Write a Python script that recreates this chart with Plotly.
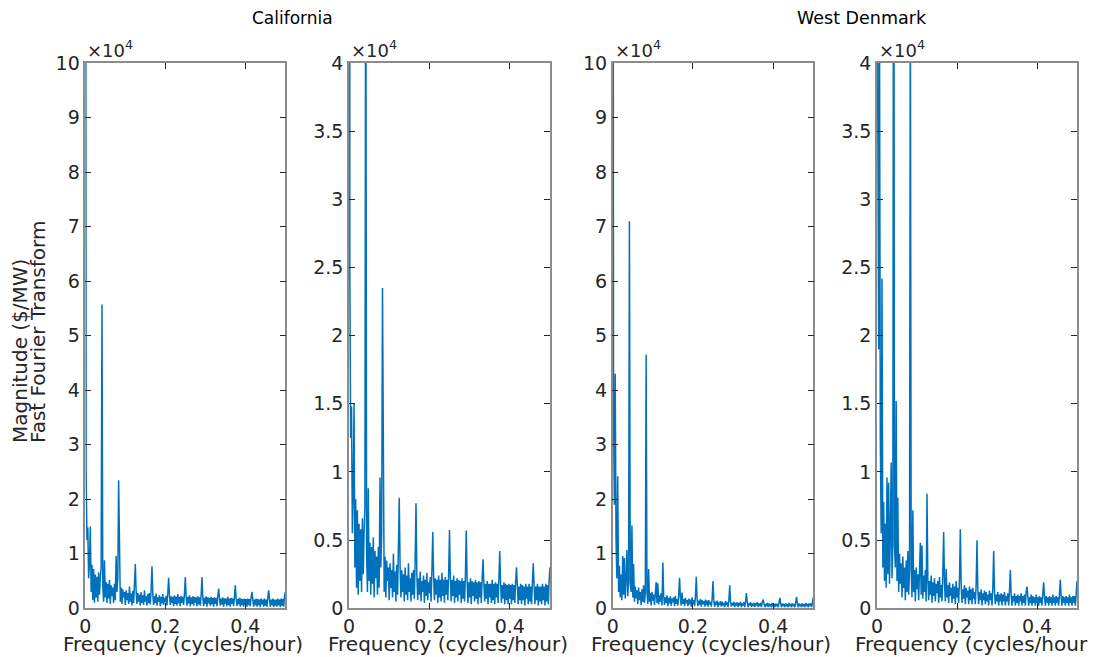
import numpy as np
import plotly.graph_objects as go

# ---------------- data (magnitudes in units of 10^4 $/MW) ----------------
# FFT frequency bins: k / 480 cycles/hour, k = 0..240
bins_per_cycle = 480

california_mag = [
    25.0, 2.45, 1.25, 1.48, 0.55, 0.85, 1.50, 0.30, 0.80, 0.15,
    0.72, 0.10, 0.62, 0.20, 0.58, 0.12, 0.66, 0.25, 0.55, 0.75,
    5.57, 0.40, 0.12, 0.88, 0.20, 0.48, 0.10, 0.45, 0.18, 0.52,
    0.08, 0.42, 0.22, 0.38, 0.10, 0.45, 0.15, 0.96, 0.30, 0.55,
    2.35, 0.45, 0.12, 0.38, 0.08, 0.35, 0.20, 0.30, 0.06, 0.33,
    0.15, 0.28, 0.08, 0.40, 0.12, 0.27, 0.05, 0.32, 0.10, 0.45,
    0.81, 0.30, 0.08, 0.28, 0.12, 0.25, 0.05, 0.30, 0.10, 0.24,
    0.06, 0.33, 0.12, 0.22, 0.05, 0.26, 0.10, 0.28, 0.07, 0.35,
    0.77, 0.25, 0.06, 0.22, 0.10, 0.27, 0.05, 0.20, 0.12, 0.24,
    0.04, 0.21, 0.09, 0.26, 0.06, 0.19, 0.11, 0.23, 0.05, 0.28,
    0.56, 0.24, 0.06, 0.22, 0.10, 0.21, 0.04, 0.24, 0.08, 0.21,
    0.05, 0.26, 0.09, 0.21, 0.04, 0.23, 0.10, 0.21, 0.06, 0.26,
    0.575, 0.22, 0.05, 0.21, 0.09, 0.24, 0.04, 0.20, 0.08, 0.22,
    0.05, 0.21, 0.10, 0.20, 0.04, 0.22, 0.07, 0.20, 0.05, 0.24,
    0.57, 0.21, 0.04, 0.19, 0.08, 0.22, 0.03, 0.20, 0.09, 0.19,
    0.05, 0.21, 0.07, 0.19, 0.03, 0.20, 0.08, 0.19, 0.04, 0.22,
    0.36, 0.19, 0.05, 0.18, 0.07, 0.20, 0.03, 0.18, 0.08, 0.18,
    0.04, 0.21, 0.06, 0.18, 0.03, 0.19, 0.08, 0.18, 0.04, 0.22,
    0.42, 0.18, 0.04, 0.17, 0.07, 0.19, 0.03, 0.18, 0.06, 0.17,
    0.03, 0.18, 0.07, 0.17, 0.03, 0.18, 0.06, 0.17, 0.04, 0.20,
    0.30, 0.17, 0.03, 0.16, 0.06, 0.18, 0.03, 0.17, 0.06, 0.16,
    0.02, 0.18, 0.07, 0.16, 0.03, 0.18, 0.05, 0.16, 0.03, 0.19,
    0.33, 0.17, 0.03, 0.16, 0.06, 0.18, 0.02, 0.16, 0.05, 0.16,
    0.03, 0.18, 0.06, 0.16, 0.02, 0.18, 0.05, 0.17, 0.03, 0.21,
    0.30,
]

west_denmark_mag = [
    25.0, 3.60, 1.90, 4.30, 1.24, 0.55, 2.42, 0.30, 0.78, 0.20,
    0.62, 0.15, 0.96, 0.25, 0.92, 0.18, 0.55, 1.07, 0.22, 0.50,
    7.10, 0.45, 0.30, 1.52, 0.20, 0.81, 0.12, 0.40, 0.18, 0.33,
    0.08, 0.38, 0.15, 0.30, 0.06, 0.35, 0.12, 0.42, 0.10, 0.28,
    4.65, 0.30, 0.08, 0.72, 0.12, 0.28, 0.05, 0.30, 0.14, 0.25,
    0.06, 0.27, 0.48, 0.10, 0.46, 0.07, 0.24, 0.12, 0.28, 0.05,
    0.84, 0.22, 0.06, 0.20, 0.10, 0.24, 0.04, 0.19, 0.09, 0.22,
    0.05, 0.18, 0.11, 0.20, 0.04, 0.23, 0.08, 0.17, 0.05, 0.26,
    0.56, 0.18, 0.05, 0.29, 0.08, 0.17, 0.04, 0.19, 0.09, 0.15,
    0.04, 0.18, 0.07, 0.16, 0.03, 0.20, 0.08, 0.15, 0.04, 0.22,
    0.58, 0.16, 0.04, 0.14, 0.07, 0.17, 0.03, 0.15, 0.08, 0.13,
    0.03, 0.16, 0.06, 0.14, 0.03, 0.15, 0.07, 0.12, 0.03, 0.18,
    0.50, 0.13, 0.03, 0.12, 0.06, 0.14, 0.02, 0.11, 0.06, 0.13,
    0.03, 0.12, 0.05, 0.10, 0.02, 0.13, 0.06, 0.11, 0.02, 0.15,
    0.42, 0.12, 0.03, 0.10, 0.05, 0.12, 0.02, 0.10, 0.05, 0.11,
    0.02, 0.10, 0.05, 0.12, 0.02, 0.09, 0.05, 0.11, 0.02, 0.13,
    0.28, 0.10, 0.02, 0.09, 0.05, 0.11, 0.02, 0.09, 0.04, 0.10,
    0.02, 0.09, 0.05, 0.11, 0.02, 0.09, 0.04, 0.10, 0.02, 0.12,
    0.16, 0.09, 0.02, 0.08, 0.04, 0.10, 0.02, 0.09, 0.04, 0.08,
    0.02, 0.10, 0.04, 0.08, 0.02, 0.09, 0.04, 0.08, 0.02, 0.11,
    0.19, 0.08, 0.02, 0.09, 0.04, 0.08, 0.02, 0.09, 0.04, 0.08,
    0.02, 0.10, 0.04, 0.08, 0.02, 0.09, 0.04, 0.08, 0.02, 0.11,
    0.21, 0.08, 0.02, 0.09, 0.04, 0.08, 0.02, 0.09, 0.04, 0.08,
    0.02, 0.10, 0.04, 0.08, 0.02, 0.09, 0.04, 0.09, 0.02, 0.10,
    0.20,
]

panel_titles = ["California", "West Denmark"]
x_tick_vals = [0, 0.2, 0.4]
x_tick_text = ["0", "0.2", "0.4"]
y_ticks_full = [0, 1, 2, 3, 4, 5, 6, 7, 8, 9, 10]
y_ticks_full_text = ["0", "1", "2", "3", "4", "5", "6", "7", "8", "9", "10"]
y_ticks_zoom = [0, 0.5, 1, 1.5, 2, 2.5, 3, 3.5, 4]
y_ticks_zoom_text = ["0", "0.5", "1", "1.5", "2", "2.5", "3", "3.5", "4"]
x_label = "Frequency (cycles/hour)"
y_label_lines = ["Magnitude ($/MW)", "Fast Fourier Transform"]

# ---------------- figure ----------------
# The page body has an 8px margin, so the figure is drawn 8px in from the
# window's top-left corner; size it to fill the rest of the window.
OFF = 8
WIN_W, WIN_H = 1096, 657
W, H = WIN_W - OFF, WIN_H - OFF
FONT = "DejaVu Sans, Liberation Sans, Arial, sans-serif"
TXT = "#262626"
BLUE = "#0072BD"

def px(x):
    """window pixel x -> paper fraction"""
    return (x - OFF) / W

def py(y):
    """window pixel y -> paper fraction"""
    return 1 - (y - OFF) / H

x_domains = [(85.3, 285.3), (349, 550), (612.7, 813.3), (877, 1077)]
y_dom = [py(608.3), py(63)]

series = [california_mag, california_mag, west_denmark_mag, west_denmark_mag]
y_ranges = [10, 4, 10, 4]

fig = go.Figure()
layout = dict(
    template="none",
    width=W, height=H,
    margin=dict(l=0, r=0, t=0, b=0, pad=0, autoexpand=False),
    paper_bgcolor="white", plot_bgcolor="white",
    showlegend=False,
    font=dict(family=FONT, color=TXT, size=19),
)
annotations = []

for i, mag in enumerate(series):
    n = i + 1
    xa = "x" if n == 1 else f"x{n}"
    ya = "y" if n == 1 else f"y{n}"
    freqs = np.arange(len(mag)) / bins_per_cycle
    fig.add_trace(go.Scatter(
        x=freqs, y=mag, mode="lines",
        line=dict(color=BLUE, width=1.5),
        xaxis=xa, yaxis=ya, hoverinfo="skip", cliponaxis=True,
    ))
    d0, d1 = x_domains[i]
    axis_common = dict(
        showline=True, linecolor="#8c8c8c", linewidth=1.5, mirror="ticks",
        ticks="inside", ticklen=6, tickwidth=1, tickcolor=TXT,
        showgrid=False, zeroline=False, automargin=False,
        tickfont=dict(family=FONT, size=19, color=TXT),
    )
    layout["xaxis" if n == 1 else f"xaxis{n}"] = dict(
        domain=[px(d0), px(d1)], range=[0, 0.5], anchor=ya,
        tickvals=x_tick_vals, ticktext=x_tick_text, **axis_common,
    )
    full = y_ranges[i] == 10
    layout["yaxis" if n == 1 else f"yaxis{n}"] = dict(
        domain=y_dom, range=[0, y_ranges[i]], anchor=xa,
        tickvals=y_ticks_full if full else y_ticks_zoom,
        ticktext=y_ticks_full_text if full else y_ticks_zoom_text,
        **axis_common,
    )
    # x label
    annotations.append(dict(
        text=x_label, xref="paper", yref="paper",
        x=px((d0 + d1) / 2 - 2), y=py(630), xanchor="center", yanchor="top",
        showarrow=False, font=dict(family=FONT, size=20, color=TXT),
    ))
    # exponent label
    annotations.append(dict(
        text="×10<sup>4</sup>", xref="paper", yref="paper",
        x=px(d0), y=py(63), xanchor="left", yanchor="bottom",
        showarrow=False, font=dict(family=FONT, size=18, color=TXT),
    ))

# group titles
annotations.append(dict(text=panel_titles[0], xref="paper", yref="paper",
                        x=px(292), y=py(18), xanchor="center", yanchor="middle",
                        showarrow=False, font=dict(family=FONT, size=17, color="black")))
annotations.append(dict(text=panel_titles[1], xref="paper", yref="paper",
                        x=px(862), y=py(18), xanchor="center", yanchor="middle",
                        showarrow=False, font=dict(family=FONT, size=17.5, color="black")))

# y label (two lines, aligned at the bottom)
annotations.append(dict(text=y_label_lines[0], xref="paper", yref="paper",
                        x=px(20), y=py(445), xanchor="center", yanchor="bottom",
                        textangle=-90, showarrow=False,
                        font=dict(family=FONT, size=20, color=TXT)))
annotations.append(dict(text=y_label_lines[1], xref="paper", yref="paper",
                        x=px(38), y=py(445), xanchor="center", yanchor="bottom",
                        textangle=-90, showarrow=False,
                        font=dict(family=FONT, size=20, color=TXT)))

layout["annotations"] = annotations
fig.update_layout(**layout)
fig.write_html("out.html")
